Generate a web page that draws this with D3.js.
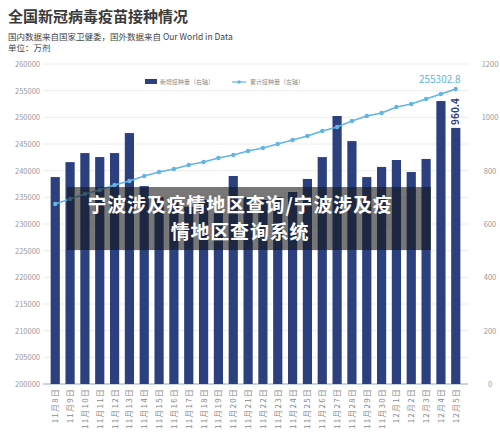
<!DOCTYPE html>
<html>
<head>
<meta charset="utf-8">
<script src="https://cdn.jsdelivr.net/npm/d3@7"></script>
<style>
  body { margin: 0; background: #fff; }
  svg { font-family: "Noto Sans CJK SC", "Noto Sans", sans-serif; }
</style>
</head>
<body>
<svg id="chart" width="500" height="437"></svg>
<script>
// dates on the x axis
const dates = ["11月8日","11月9日","11月10日","11月11日","11月12日","11月13日","11月14日",
  "11月15日","11月16日","11月17日","11月18日","11月19日","11月20日","11月21日",
  "11月22日","11月23日","11月24日","11月25日","11月26日","11月27日","11月28日",
  "11月29日","11月30日","12月1日","12月2日","12月3日","12月4日","12月5日"];

// daily new doses (right axis)
const newDoses = [776, 832, 866, 851, 866, 941, 742, 700, 690, 665, 690, 640, 780, 700,
  690, 700, 720, 769, 851, 1005, 911, 776, 814, 840, 795, 844, 1061, 960.4];

// cumulative doses (left axis)
const totalDoses = [233750, 234690, 235620, 236380, 237310, 238060, 239000, 239750, 240310,
  241060, 241620, 242380, 242940, 243690, 244250, 245000, 245750, 246500, 247440, 248190,
  249310, 250250, 250810, 251940, 252500, 253440, 254380, 255302.8];

const leftTicks = [200000,205000,210000,215000,220000,225000,230000,235000,240000,245000,250000,255000,260000];
const rightTicks = [0,200,400,600,800,1000,1200];

const svg = d3.select("#chart");
const plotL = 45, plotR = 466, plotT = 64, plotB = 384;

const x = d3.scaleBand().domain(dates).range([plotL, plotR]).padding(0.38);
const yL = d3.scaleLinear().domain([200000, 260000]).range([plotB, plotT]);
const yR = d3.scaleLinear().domain([0, 1200]).range([plotB, plotT]);

// title
svg.append("text").attr("x", 8).attr("y", 22).attr("font-size", 15).attr("font-weight", "bold")
  .attr("fill", "#3a3a3a").text("全国新冠病毒疫苗接种情况");
svg.append("text").attr("x", 8).attr("y", 40).attr("font-size", 8.5).attr("fill", "#444")
  .text("国内数据来自国家卫健委，国外数据来自 Our World in Data");
svg.append("text").attr("x", 8).attr("y", 51).attr("font-size", 8.5).attr("fill", "#444")
  .text("单位：万剂");

// grid + left ticks
svg.append("g").selectAll("line").data(leftTicks).join("line")
  .attr("x1", plotL - 2).attr("x2", plotR + 2)
  .attr("y1", d => yL(d)).attr("y2", d => yL(d))
  .attr("stroke", d => d === 200000 ? "#9aa6c0" : "#ececec");
svg.append("g").selectAll("text").data(leftTicks).join("text")
  .attr("x", 40).attr("y", d => yL(d) + 3).attr("text-anchor", "end")
  .attr("font-size", 7.5).attr("fill", "#999").text(d => d);
svg.append("g").selectAll("text").data(rightTicks).join("text")
  .attr("x", 490).attr("y", d => yR(d) + 3).attr("text-anchor", "middle")
  .attr("font-size", 7.5).attr("fill", "#999").text(d => d);

// bars
svg.append("g").selectAll("rect").data(newDoses).join("rect")
  .attr("x", (d, i) => x(dates[i])).attr("width", x.bandwidth())
  .attr("y", d => yR(d)).attr("height", d => plotB - yR(d))
  .attr("fill", "#2c407f");

// line
const line = d3.line().x((d, i) => x(dates[i]) + x.bandwidth() / 2).y(d => yL(d));
svg.append("path").datum(totalDoses).attr("d", line)
  .attr("fill", "none").attr("stroke", "#62b4e3").attr("stroke-width", 1.5);
svg.append("g").selectAll("circle").data(totalDoses).join("circle")
  .attr("cx", (d, i) => x(dates[i]) + x.bandwidth() / 2).attr("cy", d => yL(d))
  .attr("r", 2.2).attr("fill", "#62b4e3");

// value labels
const last = dates.length - 1;
svg.append("text").attr("x", x(dates[last]) + x.bandwidth() / 2 - 16).attr("y", yL(totalDoses[last]) - 6)
  .attr("text-anchor", "middle").attr("font-size", 10).attr("fill", "#62b4e3")
  .text(totalDoses[last]);
const lx = x(dates[last]) + x.bandwidth() / 2 + 3, ly = yR(newDoses[last]) - 3;
svg.append("text").attr("transform", `translate(${lx},${ly}) rotate(-90)`)
  .attr("font-size", 10).attr("font-weight", "bold").attr("fill", "#2c407f")
  .text(newDoses[last]);

// x labels (vertical)
svg.append("g").selectAll("text").data(dates).join("text")
  .attr("transform", d => `translate(${x(d) + x.bandwidth() / 2 + 3},${plotB + 4}) rotate(-90)`)
  .attr("text-anchor", "end").attr("font-size", 8).attr("letter-spacing", 1.2).attr("fill", "#888")
  .text(d => d);

// legend
svg.append("rect").attr("x", 145).attr("y", 79).attr("width", 12).attr("height", 5).attr("fill", "#2c407f");
svg.append("text").attr("x", 160).attr("y", 84).attr("font-size", 6).attr("fill", "#888").text("新增接种量（右轴）");
svg.append("line").attr("x1", 232).attr("x2", 246).attr("y1", 82).attr("y2", 82).attr("stroke", "#62b4e3").attr("stroke-width", 1.2);
svg.append("circle").attr("cx", 239).attr("cy", 82).attr("r", 1.8).attr("fill", "#62b4e3");
svg.append("text").attr("x", 250).attr("y", 84).attr("font-size", 6).attr("fill", "#888").text("累计接种量（左轴）");

// overlay banner
svg.append("rect").attr("x", 67).attr("y", 187).attr("width", 364).attr("height", 63)
  .attr("fill", "rgba(20,20,20,0.58)");
svg.append("text").attr("x", 240).attr("y", 212).attr("text-anchor", "middle")
  .attr("font-size", 19).attr("font-weight", "bold").attr("letter-spacing", 0.8).attr("fill", "#fff").text("宁波涉及疫情地区查询/宁波涉及疫");
svg.append("text").attr("x", 240).attr("y", 239).attr("text-anchor", "middle")
  .attr("font-size", 19).attr("font-weight", "bold").attr("letter-spacing", 0.8).attr("fill", "#fff").text("情地区查询系统");
</script>
</body>
</html>
